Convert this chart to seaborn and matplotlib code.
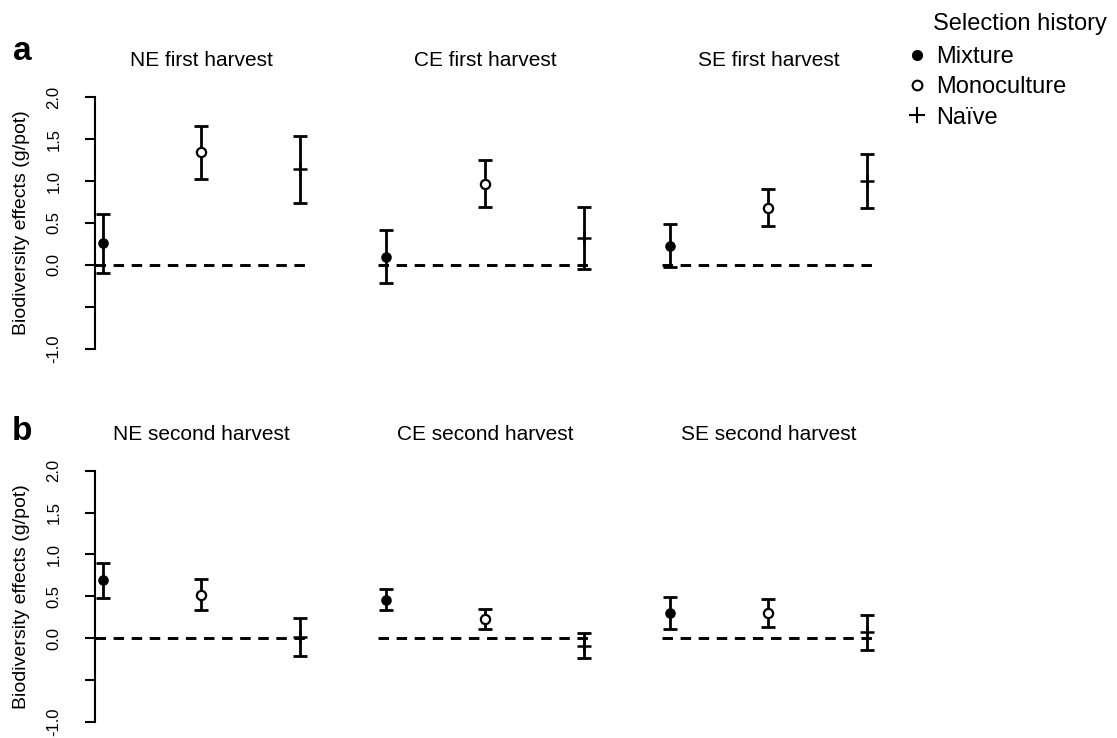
import numpy as np
import pandas as pd
import matplotlib
matplotlib.use("Agg")
import matplotlib.pyplot as plt
from matplotlib.lines import Line2D
import seaborn as sns

# ---- data -------------------------------------------------------------
regions = ["NE", "CE", "SE"]
histories = ["Mixture", "Monoculture", "Naïve"]
harvests = ["first", "second"]

# mean biodiversity effect and error-bar half-width (g/pot);
# one row per region (NE, CE, SE), columns ordered as `histories`
first_mean = [[0.26, 1.34, 1.14], [0.10, 0.97, 0.32], [0.23, 0.68, 1.00]]
first_err = [[0.35, 0.31, 0.40], [0.32, 0.28, 0.37], [0.26, 0.22, 0.32]]
second_mean = [[0.69, 0.52, 0.01], [0.46, 0.23, -0.09], [0.30, 0.30, 0.07]]
second_err = [[0.21, 0.18, 0.23], [0.13, 0.12, 0.15], [0.19, 0.17, 0.21]]

ytick_values = [-1.0, -0.5, 0.0, 0.5, 1.0, 1.5, 2.0]
ytick_labels = ["-1.0", "", "0.0", "0.5", "1.0", "1.5", "2.0"]

rows = []
for harvest, means, errs in [("first", first_mean, first_err),
                             ("second", second_mean, second_err)]:
    for r, region in enumerate(regions):
        for h, history in enumerate(histories):
            rows.append(dict(harvest=harvest, region=region, history=history,
                             pos=h + 1, mean=means[r][h], err=errs[r][h]))
df = pd.DataFrame(rows)

# ---- style ------------------------------------------------------------
sns.set_theme(style="white")
plt.rcParams["font.family"] = ["Liberation Sans", "DejaVu Sans"]
plt.rcParams["text.color"] = "black"
plt.rcParams["axes.labelcolor"] = "black"
plt.rcParams["ytick.color"] = "black"

W, H = 1117, 738
fig = plt.figure(figsize=(W / 100, H / 100), dpi=100)

panel_left = [94.7, 378.3, 661.7]
panel_width = 213.3
row_top = {"first": 87.0, "second": 460.7}
row_bottom = {"first": 359.0, "second": 731.7}

marker_style = {
    "Mixture": dict(marker="o", s=58, color="black", linewidth=0),
    "Monoculture": dict(marker="o", s=44, color="black", linewidth=1.6),
    "Naïve": dict(marker="+", s=110, color="black", linewidth=1.8),
}

for harvest in harvests:
    for r, region in enumerate(regions):
        rect = [panel_left[r] / W, 1 - row_bottom[harvest] / H,
                panel_width / W, (row_bottom[harvest] - row_top[harvest]) / H]
        ax = fig.add_axes(rect)
        sub = df[(df.harvest == harvest) & (df.region == region)]

        ax.axhline(0, color="black", lw=2.1, ls=(0, (3.6, 2.6)), zorder=1)
        ax.errorbar(sub["pos"], sub["mean"], yerr=sub["err"], fmt="none",
                    ecolor="black", elinewidth=2.0, capsize=5, capthick=2.0,
                    zorder=2)
        for history in histories:
            pts = sub[sub.history == history]
            sns.scatterplot(data=pts, x="pos", y="mean", ax=ax, zorder=3,
                            legend=False, **marker_style[history])
            if history == "Monoculture":
                coll = ax.collections[-1]
                coll.set_facecolor("white")
                coll.set_edgecolor("black")

        ax.set_xlim(0.92, 3.08)
        ax.set_ylim(-1.12, 2.12)
        ax.set_xlabel("")
        ax.set_ylabel("")
        ax.set_xticks([])
        ax.set_title(f"{region} {harvest} harvest", fontsize=15, pad=15,
                     color="black")
        for side in ["top", "right", "bottom"]:
            ax.spines[side].set_visible(False)
        if r == 0:
            ax.spines["left"].set_bounds(-1.0, 2.0)
            ax.spines["left"].set_linewidth(1.5)
            ax.spines["left"].set_color("black")
            ax.set_yticks(ytick_values)
            ax.set_yticklabels(ytick_labels, rotation=90, va="center",
                               fontsize=12)
            ax.tick_params(axis="y", left=True, length=7, width=1.5,
                           pad=17, color="black")
            ax.set_ylabel("Biodiversity effects (g/pot)", fontsize=14)
            ax.yaxis.set_label_coords(-0.305, 0.5)
        else:
            ax.spines["left"].set_visible(False)
            ax.set_yticks([])

# panel letters
fig.text(22 / W, 1 - 52 / H, "a", fontsize=24, weight="bold",
         ha="center", va="center")
fig.text(22 / W, 1 - 431 / H, "b", fontsize=24, weight="bold",
         ha="center", va="center")

# legend
fig.text(933 / W, 1 - 24 / H, "Selection history", fontsize=17,
         ha="left", va="center")
handles = [
    Line2D([], [], ls="none", marker="o", markersize=7, color="black"),
    Line2D([], [], ls="none", marker="o", markersize=7, markerfacecolor="white",
           markeredgecolor="black", markeredgewidth=1.5),
    Line2D([], [], ls="none", marker="+", markersize=12, color="black",
           markeredgewidth=1.5),
]
fig.legend(handles, histories, loc="upper left",
           bbox_to_anchor=(908 / W, 1 - 46 / H), frameon=False, fontsize=17,
           handlelength=0.8, handletextpad=0.4, labelspacing=0.35,
           borderpad=0, borderaxespad=0)

fig.savefig("out.png", dpi=100)
